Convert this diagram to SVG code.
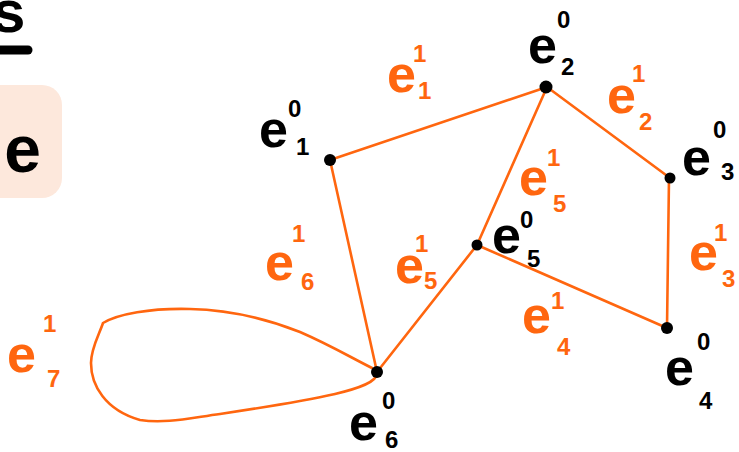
<svg xmlns="http://www.w3.org/2000/svg" width="739" height="452" viewBox="0 0 739 452">
<style>
.edge{fill:none;stroke:#ff660f;stroke-width:2.6;stroke-linecap:round;stroke-linejoin:round}
.dot{fill:#000}
text{font-family:"Liberation Sans",Arial,sans-serif;font-weight:bold}
.b{fill:#000}
.o{fill:#ff660f}
.big{font-size:52px}
.sm{font-size:24px}
</style>
<rect width="739" height="452" fill="#fff"/>
<g id="corner">
<text x="-8" y="32" class="b" style="font-size:60px">s</text>
<line x1="0" y1="50" x2="28" y2="50" stroke="#000" stroke-width="9" stroke-linecap="round"/>
<rect x="-20" y="85" width="82" height="113" rx="20" fill="#fde8dc"/>
<text x="-14" y="172" class="b" style="font-size:66px">.e</text>
</g>
<g id="connectors">
<line class="edge" x1="330" y1="160" x2="547" y2="87"/>
<line class="edge" x1="547" y1="87" x2="670" y2="178"/>
<line class="edge" x1="669" y1="178" x2="667" y2="328"/>
<line class="edge" x1="477" y1="245" x2="667" y2="328"/>
<line class="edge" x1="547" y1="87" x2="477" y2="245"/>
<line class="edge" x1="477" y1="245" x2="377" y2="372"/>
<line class="edge" x1="330" y1="160" x2="377" y2="372"/>
<path class="edge" d="M372,368 C350,357 330,345 300,332 C270,320 230,310 190,309 C150,308 118,314 103,323 C99,335 91,348 91,363 C91,385 105,410 140,420 C165,424 190,418 220,414 C260,408 300,402 335,394 C360,388 376,382 377,374"/>
</g>
<g id="e1-0"><circle class="dot" cx="330" cy="160" r="6"/><text x="259" y="147" class="b big">e</text><text x="288" y="117" class="b sm">0</text><text x="296" y="155" class="b sm">1</text></g>
<g id="e2-0"><circle class="dot" cx="546" cy="87" r="6.5"/><text x="528" y="63" class="b big">e</text><text x="557" y="28" class="b sm">0</text><text x="561" y="75" class="b sm">2</text></g>
<g id="e3-0"><circle class="dot" cx="670" cy="178" r="5.5"/><text x="682" y="175" class="b big">e</text><text x="713" y="138" class="b sm">0</text><text x="721" y="180" class="b sm">3</text></g>
<g id="e4-0"><circle class="dot" cx="667" cy="328" r="6"/><text x="665" y="385" class="b big">e</text><text x="697" y="350" class="b sm">0</text><text x="699" y="409" class="b sm">4</text></g>
<g id="e5-0"><circle class="dot" cx="477" cy="245" r="5.5"/><text x="492" y="253" class="b big">e</text><text x="520" y="228" class="b sm">0</text><text x="527" y="267" class="b sm">5</text></g>
<g id="e6-0"><circle class="dot" cx="377" cy="372" r="6"/><text x="349" y="440" class="b big">e</text><text x="382" y="409" class="b sm">0</text><text x="385" y="448" class="b sm">6</text></g>
<g id="e1-1"><text x="387" y="92" class="o big">e</text><text x="413" y="62" class="o sm">1</text><text x="418" y="99" class="o sm">1</text></g>
<g id="e2-1"><text x="607" y="113" class="o big">e</text><text x="632" y="82" class="o sm">1</text><text x="639" y="130" class="o sm">2</text></g>
<g id="e3-1"><text x="689" y="270" class="o big">e</text><text x="714" y="241" class="o sm">1</text><text x="722" y="287" class="o sm">3</text></g>
<g id="e4-1"><text x="522" y="333" class="o big">e</text><text x="551" y="309" class="o sm">1</text><text x="557" y="355" class="o sm">4</text></g>
<g id="e5-1a"><text x="519" y="195" class="o big">e</text><text x="547" y="166" class="o sm">1</text><text x="553" y="212" class="o sm">5</text></g>
<g id="e5-1b"><text x="395" y="283" class="o big">e</text><text x="415" y="252" class="o sm">1</text><text x="424" y="289" class="o sm">5</text></g>
<g id="e6-1"><text x="265" y="280" class="o big">e</text><text x="292" y="242" class="o sm">1</text><text x="301" y="290" class="o sm">6</text></g>
<g id="e7-1"><text x="7" y="372" class="o big">e</text><text x="43" y="332" class="o sm">1</text><text x="47" y="387" class="o sm">7</text></g>
</svg>
